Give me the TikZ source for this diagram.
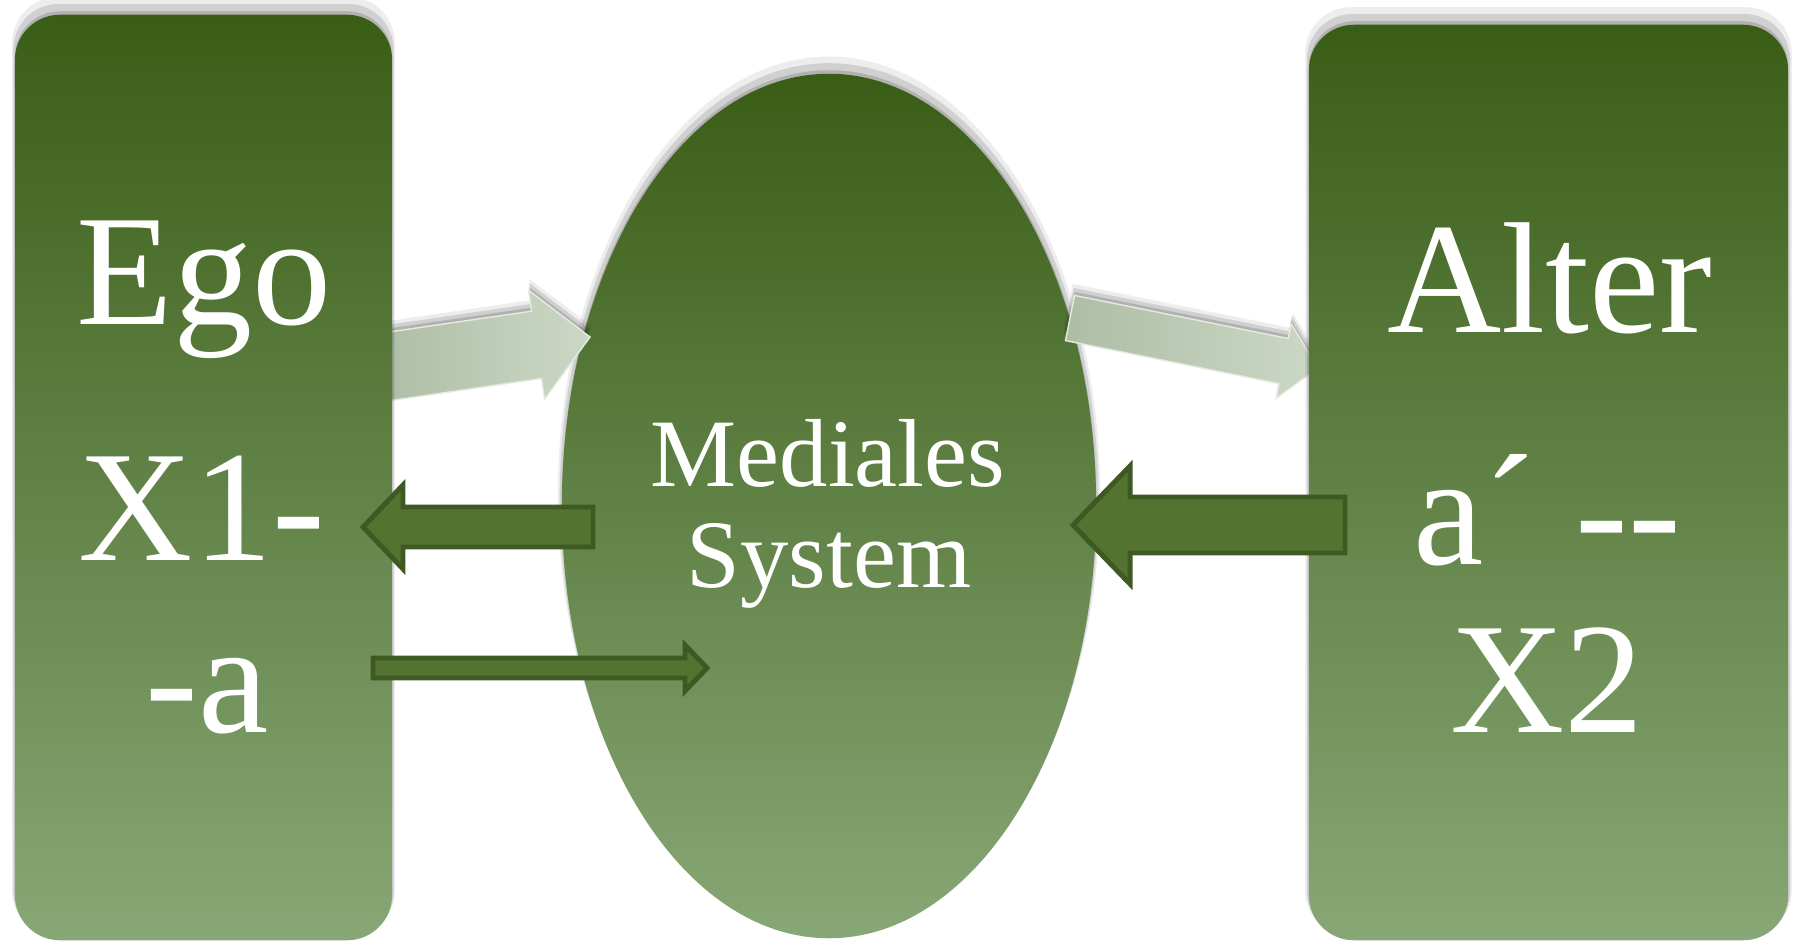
\documentclass[tikz,border=0pt]{standalone}
\usepackage{fontspec}
\setmainfont{Liberation Serif}
\usepackage{tikz}
\usetikzlibrary{shapes}
\usetikzlibrary{shadows,calc}
\definecolor{gtop}{HTML}{3A5D16}
\definecolor{gbot}{HTML}{88A776}
\definecolor{armfill}{HTML}{537331}
\definecolor{armline}{HTML}{3E5A22}
\definecolor{pale}{HTML}{AEBDA5}
\definecolor{paler}{HTML}{CCD8C6}
\tikzstyle{halo}=[general shadow={fill=black,opacity=.07,shadow yshift=3pt,shadow scale=1.015},
  general shadow={fill=black,opacity=.12,shadow yshift=2pt,shadow scale=1.008},
  general shadow={fill=black,opacity=.15,shadow yshift=1pt}]
\tikzstyle{panel}=[halo, top color=gtop, bottom color=gbot, draw=none, inner sep=0pt]
\tikzstyle{glass}=[halo, left color=pale, right color=paler, draw=paler!50!white, line width=.4pt]
\tikzstyle{darkarm}=[fill=armfill, draw=armline, line width=1.4pt, line join=miter]
\tikzstyle{big}=[text=white, font=\fontsize{45}{54}\selectfont, inner sep=0pt, anchor=base]
\tikzstyle{mid}=[text=white, font=\fontsize{27.5}{33}\selectfont, inner sep=0pt, anchor=base]
% #1 style, #2 tail, #3 tip, #4 half shaft, #5 half head, #6 head length
\newcommand{\fatarrow}[6]{%
  \path ($(#3)!#6!(#2)$) coordinate (hb);
  \draw[#1] ($(#2)!#4!90:(#3)$) -- ($(hb)!#4!-90:(#2)$) -- ($(hb)!#5!-90:(#2)$) -- (#3)
    -- ($(hb)!#5!90:(#2)$) -- ($(hb)!#4!90:(#2)$) -- ($(#2)!#4!-90:(#3)$) -- cycle;
}

\begin{document}
\begin{tikzpicture}[x=0.01cm, y=-0.01cm]
\useasboundingbox (0,0) rectangle (1794,942);
% medium
\node[panel, ellipse, minimum width=5.34cm, minimum height=8.64cm] (med) at (829,506) {};
% light arrows
\coordinate (p1) at (385,367);
\coordinate (q1) at (590,337);
\coordinate (p2) at (1070,318);
\coordinate (q2) at (1318,368);
\fatarrow{glass}{p1}{q1}{.34cm}{.55cm}{.54cm}
\fatarrow{glass}{p2}{q2}{.23cm}{.38cm}{.35cm}
% both sides
\node[panel, rounded corners=.45cm, minimum width=3.77cm, minimum height=9.25cm] (ego) at (203.5,477.5) {};
\node[panel, rounded corners=.45cm, minimum width=4.79cm, minimum height=9.15cm] (alter) at (1548.5,482.5) {};
% dark arrows
\coordinate (p3) at (593,527);
\coordinate (q3) at (363,527);
\coordinate (p4) at (1345,525);
\coordinate (q4) at (1073,525);
\coordinate (p5) at (373,668);
\coordinate (q5) at (707,668);
\fatarrow{darkarm}{p3}{q3}{.20cm}{.42cm}{.40cm}
\fatarrow{darkarm}{p4}{q4}{.28cm}{.59cm}{.57cm}
\fatarrow{darkarm}{p5}{q5}{.10cm}{.23cm}{.22cm}
% labels
\node[big] (egoA) at (204,324) {Ego};
\node[big] (egoB) at (202,560) {X1-};
\node[big] (egoC) at (207,732) {-a};
\node[big] (altA) at (1550,332) {Alter};
\node[big] (altB) at (1547,564) {a´ -{}-};
\node[big] (altC) at (1547,732) {X2};
\node[mid] (medA) at (828,486) {Mediales};
\node[mid] (medB) at (829,587) {System};
\end{tikzpicture}
\end{document}
